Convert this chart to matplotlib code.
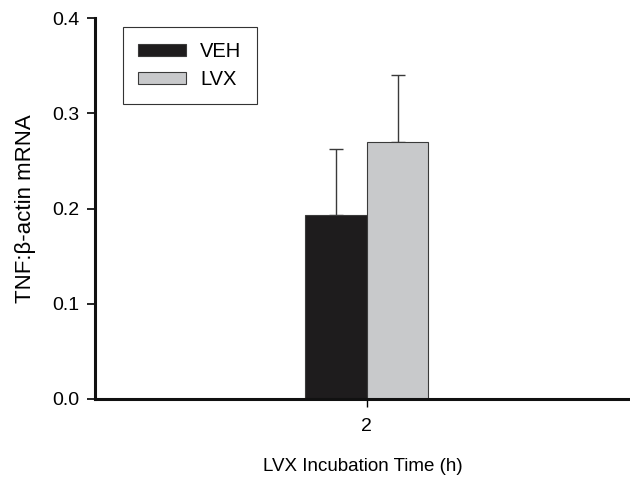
#!/usr/bin/env python3

import numpy as np
import matplotlib
matplotlib.use("Agg")
import matplotlib.pyplot as plt

matplotlib.rcParams.update({
    "font.family": ["Liberation Sans", "DejaVu Sans"],
    "font.size": 14,
})

# data
groups = ['2']
series = ['VEH', 'LVX']
means = [0.193, 0.270]
errs = [0.069, 0.070]
colors = ['#1e1c1d', '#c8c9cb']

fig = plt.figure(figsize=(6.3, 4.78), dpi=100)
ax = fig.add_axes([0.1508, 0.1653, 0.8492, 0.797])

w = 0.25
x = np.arange(len(groups))
for i, (name, m, e, c) in enumerate(zip(series, means, errs, colors)):
    xpos = x + (i - 0.5) * w
    ax.bar(xpos, [m], width=w, color=c, edgecolor='#3a3a3a', linewidth=0.8,
           label=name, zorder=2)
    ax.errorbar(xpos, [m], yerr=[[0], [e]], fmt='none', ecolor='#3a3a3a',
                elinewidth=1.0, capsize=5, capthick=1.0, zorder=1)

ax.set_xlim(-1.106, 1.07)
ax.set_ylim(0, 0.4)
ax.set_xticks(x)
ax.set_xticklabels(groups)
ax.set_yticks([0.0, 0.1, 0.2, 0.3, 0.4])
ax.set_yticklabels(['0.0', '0.1', '0.2', '0.3', '0.4'])

for s in ['top', 'right']:
    ax.spines[s].set_visible(False)
for s in ['left', 'bottom']:
    ax.spines[s].set_linewidth(2.2)
    ax.spines[s].set_color('#111111')
ax.tick_params(axis='y', direction='out', length=6, width=1.2, pad=5)
ax.tick_params(axis='x', direction='out', length=6, width=1.0, pad=8)

ax.set_xlabel('LVX Incubation Time (h)', labelpad=16, fontsize=13.5)
ax.set_ylabel('TNF:β-actin mRNA', labelpad=12, fontsize=16)

leg = ax.legend(loc='upper left', bbox_to_anchor=(0.052, 0.976), borderaxespad=0,
                fancybox=False, edgecolor='#333333', framealpha=1,
                handlelength=2.4, handleheight=0.55, borderpad=0.75,
                labelspacing=0.45, handletextpad=0.7, fontsize=14.5)
leg.get_frame().set_linewidth(0.8)

fig.savefig('out.png', dpi=100)
